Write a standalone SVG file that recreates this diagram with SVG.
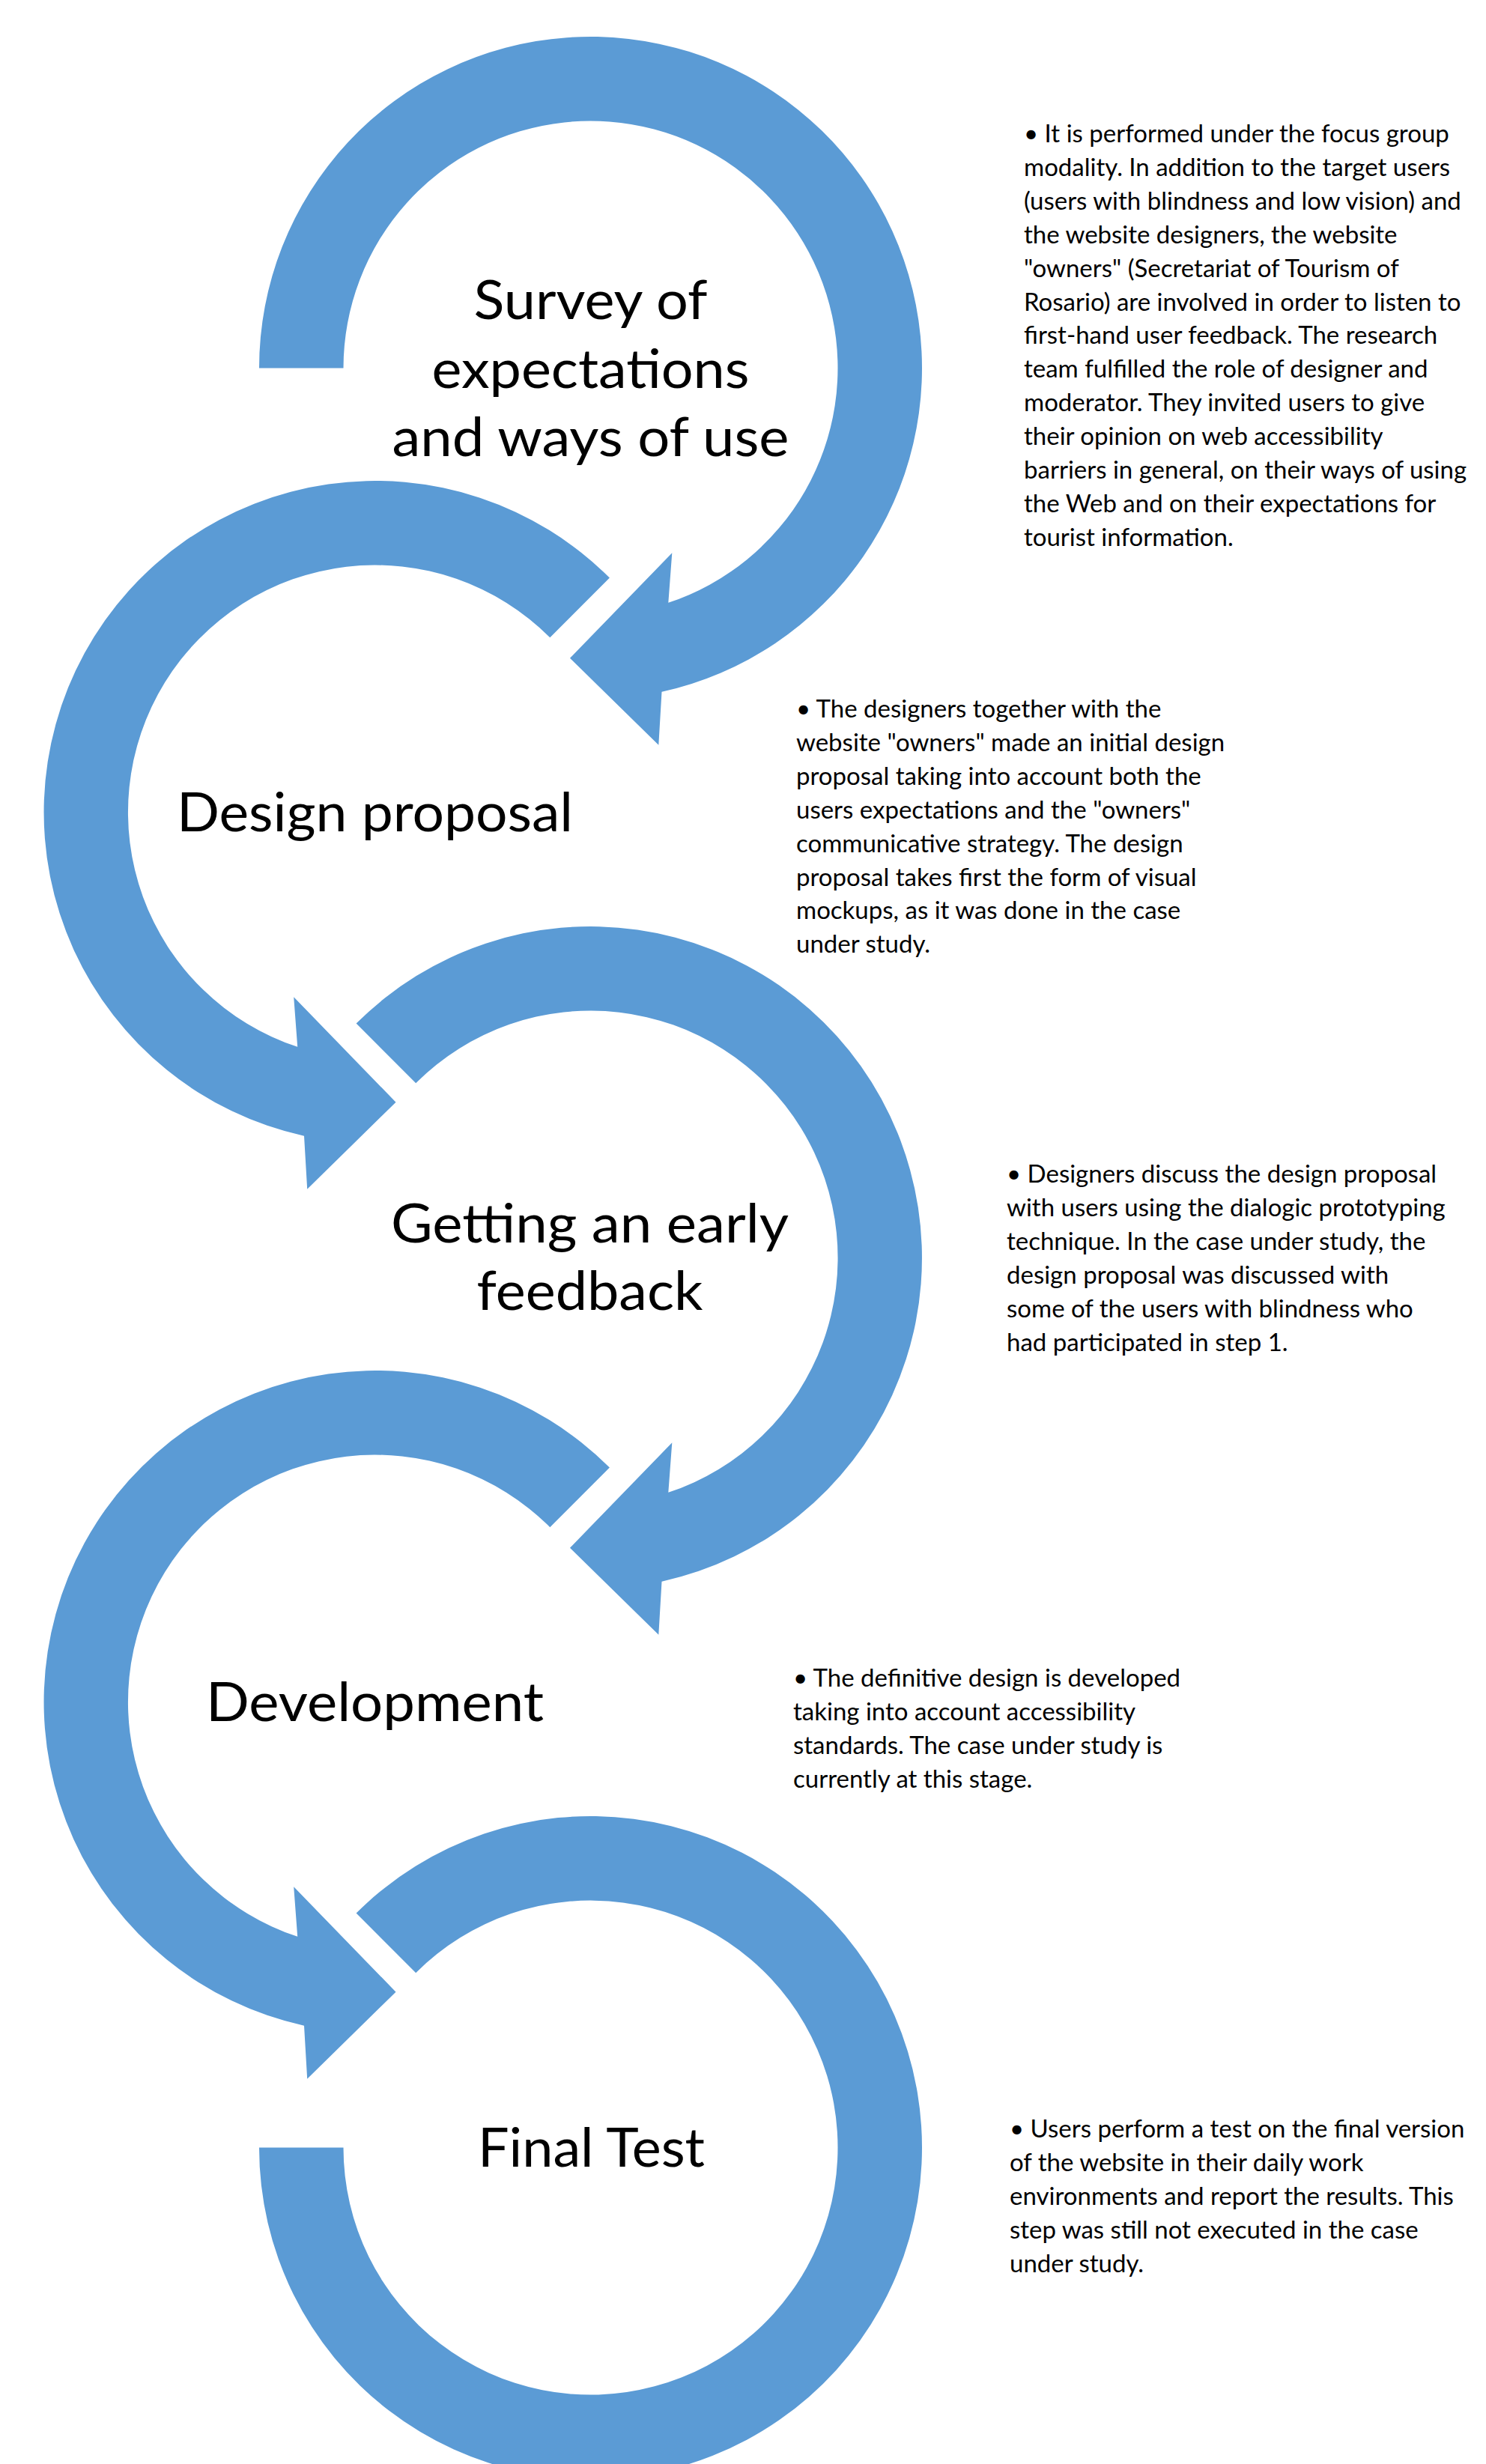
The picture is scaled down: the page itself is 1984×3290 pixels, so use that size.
<svg xmlns="http://www.w3.org/2000/svg" xmlns:xlink="http://www.w3.org/1999/xlink" width="1984" height="3290" viewBox="0 0 1984 3290">
<style>
.ring{fill:#5B9BD5;stroke:none}
.label{font-family:Lato,"Open Sans","Liberation Sans",sans-serif;font-size:72px;fill:#000;text-anchor:middle}
.desc{font-family:Lato,"Open Sans","Liberation Sans",sans-serif;font-size:33px;fill:#000}
</style>
<defs>
<path id="ringA" d="M -312.9,-312.9 A 442.5 442.5 0 1 1 95.0,432.2 L 90.8,503.2 L -27.5,387.2 L 108.8,246.8 L 103.8,313.3 A 330 330 0 1 0 -233.3,-233.3 Z"/>
<path id="ringB" d="M -442.5,0 A 442.5 442.5 0 1 1 95.0,432.2 L 90.8,503.2 L -27.5,387.2 L 108.8,246.8 L 103.8,313.3 A 330 330 0 1 0 -330,0 Z"/>
<path id="ringC" d="M -312.9,-312.9 A 442.5 442.5 0 1 1 -442.5,0 L -330,0 A 330 330 0 1 0 -233.3,-233.3 Z"/>
</defs>
<rect width="1984" height="3290" fill="#fff"/>
<g id="connectors">
<use xlink:href="#ringB" class="ring" transform="translate(788.5,491.5)"/>
<use xlink:href="#ringA" class="ring" transform="translate(501,1084.5) scale(-1,1)"/>
<use xlink:href="#ringA" class="ring" transform="translate(788.5,1679.5)"/>
<use xlink:href="#ringA" class="ring" transform="translate(501,2272.5) scale(-1,1)"/>
<use xlink:href="#ringC" class="ring" transform="translate(788.5,2867.5)"/>
</g>
<g id="step1">
<text class="label" x="788.5" y="426" textLength="312" lengthAdjust="spacingAndGlyphs">Survey of</text>
<text class="label" x="788.5" y="518" textLength="424" lengthAdjust="spacingAndGlyphs">expectations</text>
<text class="label" x="788.5" y="609" textLength="530" lengthAdjust="spacingAndGlyphs">and ways of use</text>
<text class="desc" x="1367" y="190">
<tspan x="1367" dy="0">• It is performed under the focus group</tspan>
<tspan x="1367" dy="44.9">modality. In addition to the target users</tspan>
<tspan x="1367" dy="44.9">(users with blindness and low vision) and</tspan>
<tspan x="1367" dy="44.9">the website designers, the website</tspan>
<tspan x="1367" dy="44.9">"owners" (Secretariat of Tourism of</tspan>
<tspan x="1367" dy="44.9">Rosario) are involved in order to listen to</tspan>
<tspan x="1367" dy="44.9">first-hand user feedback. The research</tspan>
<tspan x="1367" dy="44.9">team fulfilled the role of designer and</tspan>
<tspan x="1367" dy="44.9">moderator. They invited users to give</tspan>
<tspan x="1367" dy="44.9">their opinion on web accessibility</tspan>
<tspan x="1367" dy="44.9">barriers in general, on their ways of using</tspan>
<tspan x="1367" dy="44.9">the Web and on their expectations for</tspan>
<tspan x="1367" dy="44.9">tourist information.</tspan>
</text>
</g>
<g id="step2">
<text class="label" x="500.5" y="1110" textLength="529" lengthAdjust="spacingAndGlyphs">Design proposal</text>
<text class="desc" x="1063" y="958">
<tspan x="1063" dy="0">• The designers together with the</tspan>
<tspan x="1063" dy="44.9">website "owners" made an initial design</tspan>
<tspan x="1063" dy="44.9">proposal taking into account both the</tspan>
<tspan x="1063" dy="44.9">users expectations and the "owners"</tspan>
<tspan x="1063" dy="44.9">communicative strategy. The design</tspan>
<tspan x="1063" dy="44.9">proposal takes first the form of visual</tspan>
<tspan x="1063" dy="44.9">mockups, as it was done in the case</tspan>
<tspan x="1063" dy="44.9">under study.</tspan>
</text>
</g>
<g id="step3">
<text class="label" x="787.5" y="1659" textLength="531" lengthAdjust="spacingAndGlyphs">Getting an early</text>
<text class="label" x="787.5" y="1748.5" textLength="302" lengthAdjust="spacingAndGlyphs">feedback</text>
<text class="desc" x="1344" y="1579">
<tspan x="1344" dy="0">• Designers discuss the design proposal</tspan>
<tspan x="1344" dy="44.9">with users using the dialogic prototyping</tspan>
<tspan x="1344" dy="44.9">technique. In the case under study, the</tspan>
<tspan x="1344" dy="44.9">design proposal was discussed with</tspan>
<tspan x="1344" dy="44.9">some of the users with blindness who</tspan>
<tspan x="1344" dy="44.9">had participated in step 1.</tspan>
</text>
</g>
<g id="step4">
<text class="label" x="500.5" y="2298" textLength="451" lengthAdjust="spacingAndGlyphs">Development</text>
<text class="desc" x="1059" y="2252">
<tspan x="1059" dy="0">• The definitive design is developed</tspan>
<tspan x="1059" dy="44.9">taking into account accessibility</tspan>
<tspan x="1059" dy="44.9">standards. The case under study is</tspan>
<tspan x="1059" dy="44.9">currently at this stage.</tspan>
</text>
</g>
<g id="step5">
<text class="label" x="789.5" y="2893" textLength="303" lengthAdjust="spacingAndGlyphs">Final Test</text>
<text class="desc" x="1348" y="2854">
<tspan x="1348" dy="0">• Users perform a test on the final version</tspan>
<tspan x="1348" dy="44.9">of the website in their daily work</tspan>
<tspan x="1348" dy="44.9">environments and report the results. This</tspan>
<tspan x="1348" dy="44.9">step was still not executed in the case</tspan>
<tspan x="1348" dy="44.9">under study.</tspan>
</text>
</g>
</svg>
